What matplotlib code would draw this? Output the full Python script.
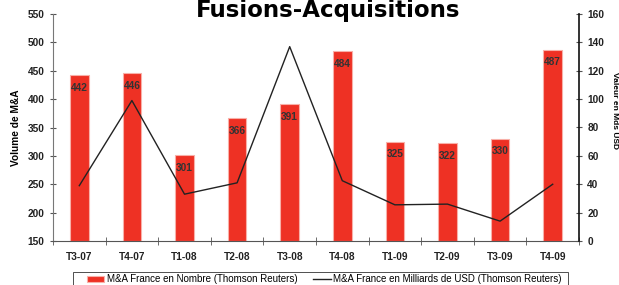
import matplotlib
matplotlib.use("Agg")
import matplotlib.pyplot as plt
from matplotlib import font_manager
from matplotlib.patches import Rectangle
import numpy as np

categories = ["T3-07", "T4-07", "T1-08", "T2-08", "T3-08", "T4-08", "T1-09", "T2-09", "T3-09", "T4-09"]
volume = [442, 446, 301, 366, 391, 484, 325, 322, 330, 487]
valeur = [39, 99, 33, 41, 137, 42.5, 25.5, 26, 14, 40]

plt.rcParams['font.family'] = ['Liberation Sans', 'DejaVu Sans']
FS = 7.3

try:
    font_manager.findfont(font_manager.FontProperties(family="Liberation Sans Narrow", weight="bold"),
                          fallback_to_default=False)
    rfam, rfs = "Liberation Sans Narrow", 7
except Exception:
    rfam, rfs = "Liberation Sans", 6

fig = plt.figure(figsize=(6.19, 2.85), dpi=100)
ax = fig.add_axes([53/619, 1-241/285, (579-53)/619, (241-14)/285])
x = np.arange(len(categories))
bars = ax.bar(x, [v - 150 for v in volume], bottom=150, width=0.35, color="#EE3124",
              edgecolor="#F8B0A8", linewidth=0.8, label="M&A France en Nombre (Thomson Reuters)", zorder=2)
for xi, v in zip(x, volume):
    ax.annotate(str(v), (xi, v), xytext=(0, -9), textcoords="offset points",
                ha="center", va="center", fontsize=FS, fontweight="bold", color="#333333", zorder=5)
ax.set_ylim(150, 550)
ax.set_xlim(-0.5, len(categories) - 0.5)
ax.set_yticks(range(150, 551, 50))
ax.set_xticks(x)
ax.set_xticklabels(categories, fontsize=FS, fontweight="bold", color="#222222")
ax.set_xticks(np.arange(-0.5, len(categories), 1), minor=True)
ax.tick_params(axis="x", which="major", length=0, pad=8)
ax.tick_params(axis="x", which="minor", length=6, direction="inout", color="#555555")
ax.tick_params(axis="y", labelsize=FS, length=4, direction="inout", color="#555555", labelcolor="#222222", pad=4)
for lab in ax.get_yticklabels():
    lab.set_fontweight("bold")
ax.spines["top"].set_visible(False)
ax.spines["right"].set_visible(False)
ax.spines["left"].set_color("#777777")
ax.spines["bottom"].set_color("#555555")
ax.set_ylabel("Volume de M&A", fontsize=FS, fontweight="bold", labelpad=5)

ax2 = ax.twinx()
line, = ax2.plot(x, valeur, color="#222222", linewidth=1.0,
                 label="M&A France en Milliards de USD (Thomson Reuters)", zorder=3)
ax2.set_ylim(0, 160)
ax2.set_yticks(range(0, 161, 20))
ax2.tick_params(axis="y", labelsize=FS, length=4, direction="inout", color="#555555", labelcolor="#222222", pad=4)
for lab in ax2.get_yticklabels():
    lab.set_fontweight("bold")
for s in ["top", "left", "bottom"]:
    ax2.spines[s].set_visible(False)
ax2.spines["right"].set_color("#111111")
ax2.spines["right"].set_linewidth(1.2)
ax2.set_ylabel("Valeur en Mds USD", fontsize=rfs, fontweight="bold", rotation=270,
               family=[rfam, "DejaVu Sans"], va="center")
ax2.yaxis.set_label_coords((615-53)/526, (241-110)/227)

fig.text(328/619, 1-11/285, "Fusions-Acquisitions", ha="center", va="center",
         fontsize=16.5, fontweight="bold", family="DejaVu Sans")

fig.patches.append(Rectangle((72.7/619, -0.1), 495/619, 0.1 + (285-271.7)/285, transform=fig.transFigure,
                             fill=False, edgecolor="#333333", linewidth=0.6))
leg = fig.legend(handles=[bars, line], loc="upper left", bbox_to_anchor=(85/619, 1-272.5/285),
                 ncol=2, fontsize=7, frameon=False,
                 borderpad=0.2, handlelength=1.8, handleheight=0.5, columnspacing=1.6, handletextpad=0.25,
                 borderaxespad=0)

fig.savefig("out.png", dpi=100)
